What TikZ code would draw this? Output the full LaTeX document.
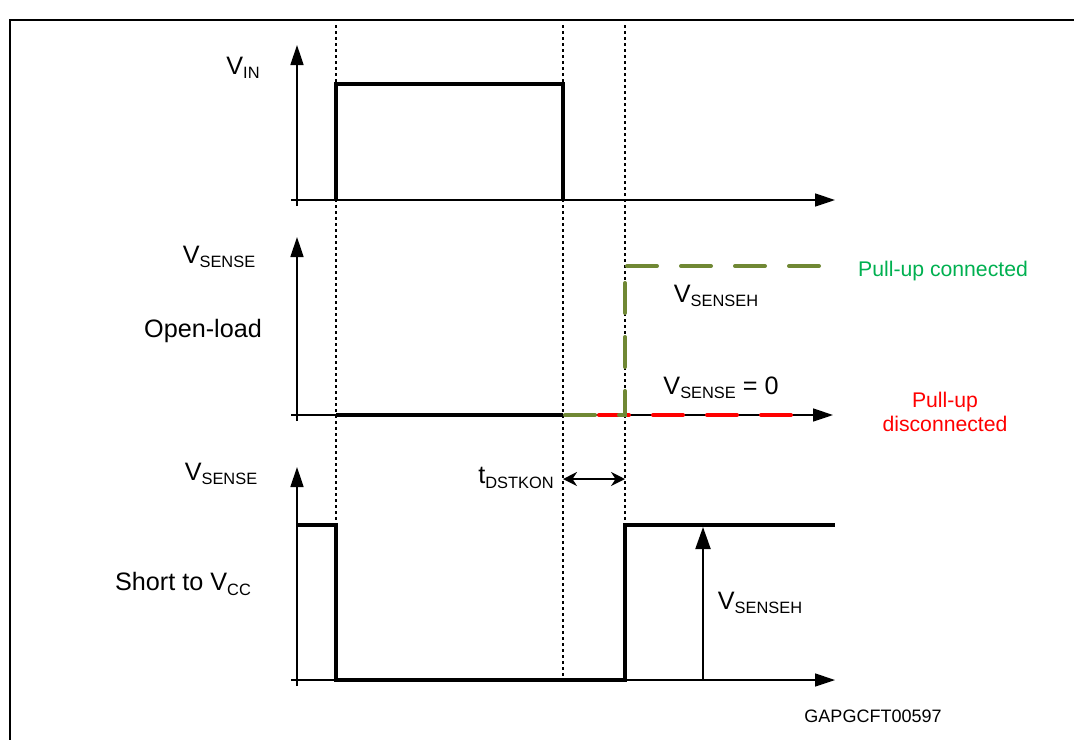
\documentclass[tikz,border=0pt]{standalone}
\usepackage{fontspec}
\setmainfont{Liberation Sans}
\usetikzlibrary{arrows.meta, positioning}

\definecolor{olivgruen}{RGB}{112,136,52}
\definecolor{textgruen}{RGB}{0,176,80}
\newcommand{\subtxt}[1]{\raisebox{-2.2pt}{\fontsize{8.2}{9}\selectfont #1}}

\begin{document}
\begin{tikzpicture}[
            x=0.5pt, y=-0.5pt,
            achse/.style={line width=0.75pt, -{Triangle[length=10pt, width=6.5pt]}},
            signal/.style={line width=2pt, line join=miter},
            hilfslinie/.style={line width=0.75pt, dash pattern=on 1.5pt off 1.5pt},
            gruenstrich/.style={line width=2pt, olivgruen, line cap=round, dash pattern=on 15pt off 12pt},
            rotstrich/.style={line width=2pt, red, line cap=round, dash pattern=on 15pt off 12pt},
            beschriftung/.style={font=\fontsize{12.6}{14}\selectfont, inner sep=0pt},
            hinweis/.style={font=\fontsize{10.6}{12}\selectfont, inner sep=0pt},
            kennung/.style={font=\fontsize{9}{11}\selectfont, inner sep=0pt}
        ]
        \useasboundingbox (0,0) rectangle (1074,740);

        % Rahmen
        \draw[line width=1pt] (1074,20) -- (10,20) -- (10,740);

        % Zeitpunkte
        \coordinate (t1) at (336,25);
        \coordinate (t2) at (563,25);
        \coordinate (t3) at (625,25);
        \draw[hilfslinie] (t1) -- (336,680);
        \draw[hilfslinie] (t2) -- (563,680);
        \draw[hilfslinie] (t3) -- (625,680);

        % Achsen
        \coordinate (o1) at (297,200);
        \coordinate (o2) at (297,415);
        \coordinate (o3) at (297,680);
        \draw[achse] (297,206) -- (297,45);
        \draw[achse] (291,200) -- (835,200);
        \draw[achse] (297,421) -- (297,237);
        \draw[achse] (291,415) -- (833,415);
        \draw[achse] (297,686) -- (297,467);
        \draw[achse] (291,680) -- (835,680);

        % Signale
        \draw[signal] (336,200) -- (336,84) -- (563,84) -- (563,200);
        \draw[signal] (336,415) -- (563,415);
        \draw[rotstrich] (599,415) -- (792,415);
        \draw[gruenstrich] (565,415) -- (625,415) -- (625,268);
        \draw[gruenstrich] (627,266) -- (820,266);
        \draw[signal] (297,525) -- (336,525) -- (336,680) -- (625,680) -- (625,525) -- (835,525);

        % Pfeile
        \draw[line width=1pt, {Stealth[length=7pt, width=7pt]}-{Stealth[length=7pt, width=7pt]}] (563,479) -- (625,479);
        \draw[line width=1pt, -{Triangle[length=11pt, width=7.5pt]}] (703,680) -- (703,527);

        % Beschriftungen
        \node[beschriftung] (vin) at (243,68) {V\subtxt{IN}};
        \node[beschriftung] (vsense1) at (219,257) {V\subtxt{SENSE}};
        \node[beschriftung] (openload) at (203,331) {Open-load};
        \node[beschriftung] (vsenseh1) at (716,296) {V\subtxt{SENSEH}};
        \node[beschriftung] (vsensenull) at (721,388) {V\subtxt{SENSE} = 0};
        \node[hinweis, textgruen] (pullup) at (943,271) {Pull-up connected};
        \node[hinweis, red, align=center] (pulldis) at (945,412) {Pull-up\\disconnected};
        \node[beschriftung] (vsense2) at (221,474) {V\subtxt{SENSE}};
        \node[beschriftung] (tdstkon) at (516,478) {t\subtxt{DSTKON}};
        \node[beschriftung] (short) at (183,584) {Short to V\subtxt{CC}};
        \node[beschriftung] (vsenseh2) at (760,603) {V\subtxt{SENSEH}};
        \node[kennung] (id) at (873,716) {GAPGCFT00597};

    \end{tikzpicture}
\end{document}
